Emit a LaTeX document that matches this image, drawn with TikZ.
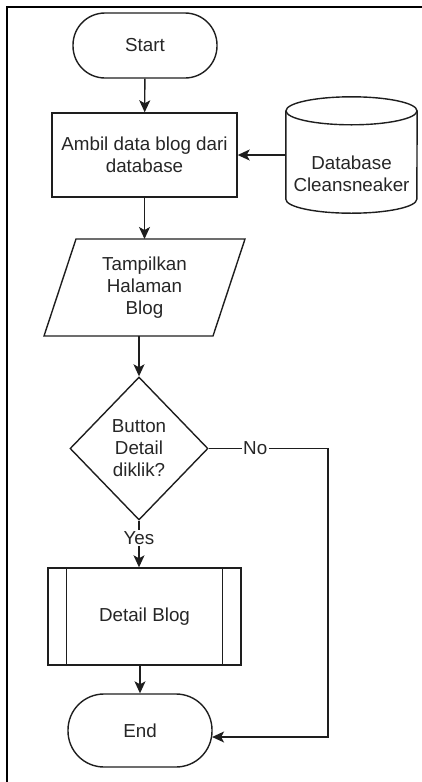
\documentclass[tikz,border=0pt]{standalone}
\usepackage{fontspec}
\setmainfont{Liberation Sans}
\usetikzlibrary{shapes.geometric,arrows.meta,calc}

\definecolor{ln}{HTML}{1E1E1E}
\definecolor{txt}{HTML}{262626}

\begin{document}
\begin{tikzpicture}[x=1pt,y=-1pt,
  every node/.style={font=\fontsize{18.8}{22}\selectfont, text=txt, align=center, inner sep=0pt},
  outline/.style={draw=ln, line width=1.4pt},
  terminal/.style={outline, rectangle, rounded corners=#1, minimum width=144pt},
  process/.style={outline, rectangle},
  decision/.style={outline, diamond, minimum width=138pt, minimum height=143pt},
  flow/.style={draw=ln, line width=1.4pt, -{Stealth[length=12pt,width=11pt,inset=3pt]}},
  lbl/.style={fill=white, inner sep=1.5pt}
]
\useasboundingbox (0,0) rectangle (422,782);

% frame around the chart (top and left edges)
\draw[line width=2.4pt, draw=black] (6.8,782) -- (6.8,6.8) -- (422,6.8);

% start / end terminals
\node[terminal=32pt, minimum height=65pt] (start) at (145,45.5) {Start};
\node[terminal=36pt, minimum height=73pt] (end) at (140,730.5) {End};

% load data
\node[process, minimum width=185pt, minimum height=84pt] (load) at (144.5,155)
  {Ambil data blog dari\\database};

% database cylinder
\node[minimum width=131pt, minimum height=116pt] (db) at (351.5,155) {};
\draw[outline] ($(db.north west)+(0,14)$) -- ($(db.south west)+(0,-14)$)
  arc[start angle=180, end angle=360, x radius=65.5pt, y radius=14pt]
  -- ($(db.north east)+(0,14)$);
\draw[outline] ($(db.north)+(0,14)$) ellipse [x radius=65.5pt, y radius=14pt];
\node (dbtext) at (351.5,174) {Database\\Cleansneaker};

% display page (parallelogram)
\node (disp) at (144.5,287.5) {Tampilkan\\Halaman\\Blog};
\draw[outline] ($(disp)+(-68.5,-48.5)$) -- ($(disp)+(100.5,-48.5)$)
  -- ($(disp)+(68.5,48.5)$) -- ($(disp)+(-100.5,48.5)$) -- cycle;
\coordinate (disptop) at ($(disp)+(0,-48.5)$);
\coordinate (dispbot) at ($(disp)+(0,48.5)$);

% decision
\node[decision] (dec) at (139,448.5) {Button\\Detail\\diklik?};

% predefined process
\node[process, minimum width=193pt, minimum height=97pt] (detail) at (144.5,616.5) {Detail Blog};
\draw[outline] ($(detail.north west)+(19,0)$) -- ($(detail.south west)+(19,0)$);
\draw[outline] ($(detail.north east)+(-19,0)$) -- ($(detail.south east)+(-19,0)$);

% connectors
\draw[flow] (start) -- (load);
\draw[flow] (db.west) -- (load.east);
\draw[flow] (load.south) -- (load.south |- disptop);
\draw[flow] (dec.north |- dispbot) -- (dec.north);
\draw[flow] (dec.south) -- node[lbl, pos=0.375] {Yes} (dec.south |- detail.north);
\draw[flow] (end.north |- detail.south) -- (end.north);
\coordinate (noturn) at (328,448.5);
\draw[flow] (dec.east) -- node[lbl, pos=0.39] {No} (noturn)
  |- ($(end.east)+(-0.6,6.5)$);
\end{tikzpicture}
\end{document}
